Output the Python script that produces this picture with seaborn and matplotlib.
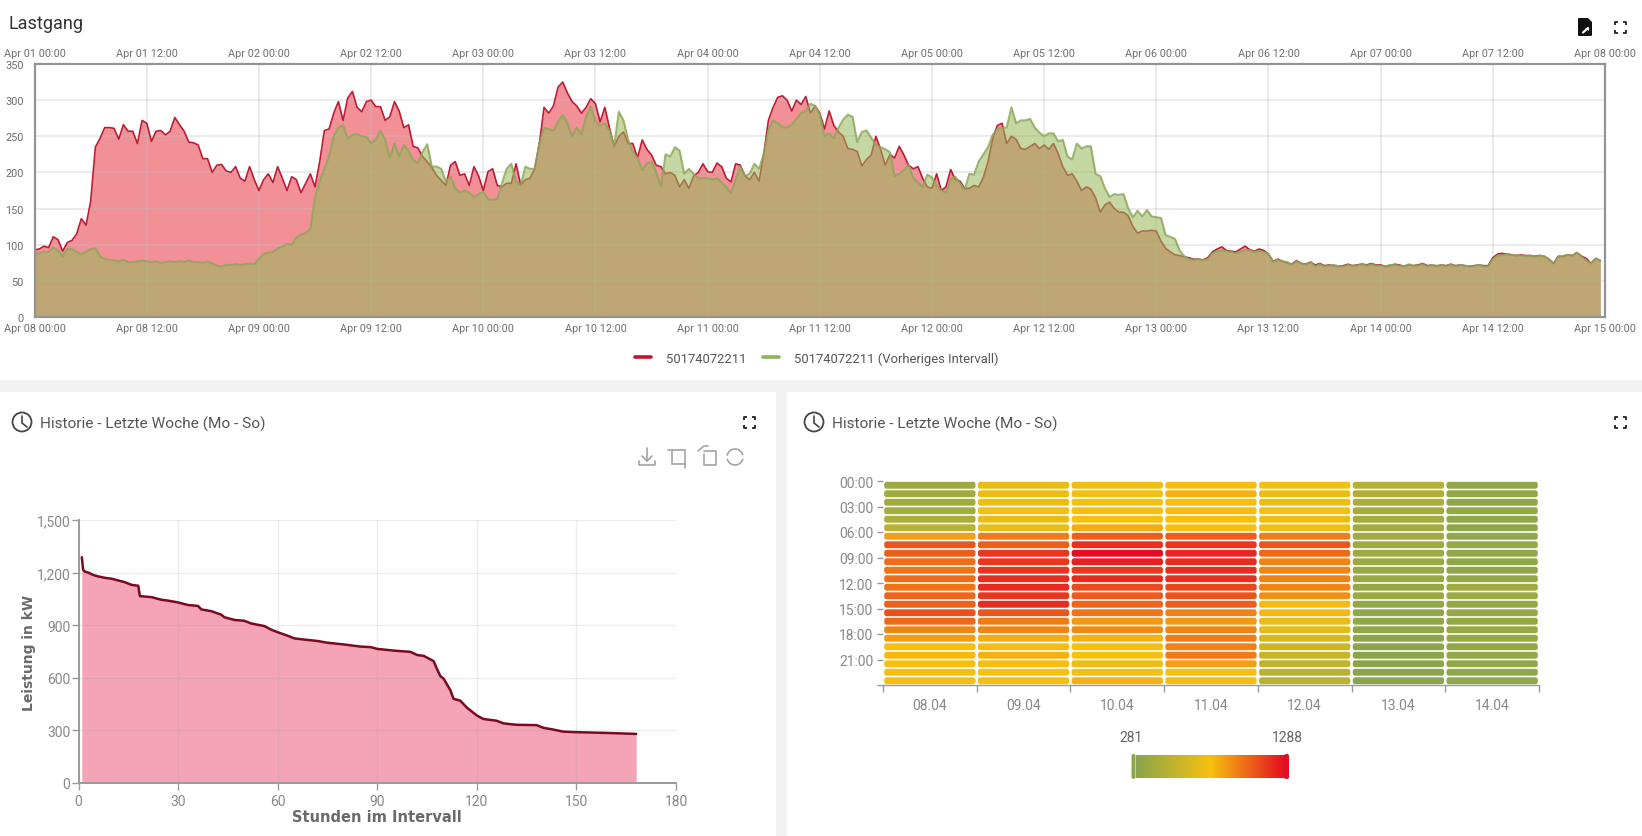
import numpy as np
import pandas as pd
import matplotlib
matplotlib.use("Agg")
import matplotlib.pyplot as plt
import matplotlib.dates as mdates
from matplotlib.colors import LinearSegmentedColormap, Normalize
from matplotlib.patches import FancyBboxPatch, Circle, Rectangle
import seaborn as sns

# ---------- data ----------
TITLE = "Lastgang"
PANEL_TITLE = "Historie - Letzte Woche (Mo - So)"
SERIES_A = "50174072211"
SERIES_B = "50174072211 (Vorheriges Intervall)"

red_apr08 = [93,94,98,96,111,107,91,103,106,115,136,127,160,235,247,262,262,261,246,266,257,257,240,272,
             268,243,257,258,252,257,276,266,257,242,241,238,219,219,200,210,211,202,200,208,192,188,208,190]
red_apr09 = [175,190,198,186,208,192,175,194,190,172,185,198,180,215,258,260,282,298,272,303,312,290,284,298,
             300,291,291,272,277,298,285,262,266,236,234,222,215,207,196,189,182,210,215,196,198,182,208,195]
red_apr10 = [175,201,205,182,180,185,185,212,183,190,192,205,240,290,282,292,318,325,310,298,292,282,290,302,
             295,270,290,262,236,250,256,240,240,220,245,232,224,210,208,198,200,196,180,190,178,195,200,212]
red_apr11 = [201,200,213,208,192,187,212,210,195,190,200,188,225,272,290,304,306,300,285,300,294,305,282,292,
             282,260,285,265,256,250,233,232,229,209,218,224,250,232,210,225,220,236,224,210,205,208,192,180]
red_apr12 = [178,198,175,180,204,190,188,178,178,182,180,193,215,247,265,268,240,250,246,233,232,236,240,233,
             238,232,240,226,208,196,198,188,175,180,177,165,145,155,159,150,145,145,140,125,116,119,119,120]
red_apr13 = [119,105,95,90,86,85,83,82,80,80,79,82,90,94,97,92,91,90,94,98,93,91,94,92,
             87,77,80,77,75,73,78,74,73,76,72,74,71,72,71,70,71,73,71,72,73,72,74,72]
red_apr14 = [72,70,71,73,72,70,72,71,72,74,71,72,70,72,71,73,71,72,71,70,71,72,71,71,
             82,87,88,87,86,85,86,85,85,84,85,84,80,74,84,84,86,85,89,84,81,74,81,78]

green_apr08 = [88,88,90,90,96,92,84,94,94,90,87,90,94,95,84,80,79,78,77,79,76,76,77,78,
               77,76,77,75,76,77,76,77,76,78,76,76,75,77,74,71,70,72,72,73,72,73,74,73]
green_apr09 = [80,87,89,90,95,97,101,100,110,114,116,122,165,188,205,222,250,262,265,247,252,253,250,249,
               240,245,258,245,220,240,222,238,230,217,213,228,239,208,208,205,187,194,178,172,175,172,166,170]
green_apr10 = [173,163,162,163,185,205,212,187,182,208,205,205,240,262,260,258,270,280,268,250,262,252,277,291,
               270,265,268,258,236,284,272,245,228,220,203,212,215,200,180,225,222,235,230,198,205,198,192,192]
green_apr11 = [192,190,192,186,180,171,190,208,195,198,212,205,225,258,272,268,263,262,266,274,282,285,295,292,
               280,250,254,247,262,273,280,277,242,256,258,248,238,235,232,228,195,198,203,210,192,186,180,197]
green_apr12 = [193,181,175,172,190,194,185,176,198,197,215,225,235,252,260,262,262,290,268,272,272,274,262,255,
               250,254,254,243,245,222,218,240,233,236,236,198,195,178,166,170,169,170,150,138,147,139,148,139]
green_apr13 = [138,137,113,111,108,92,84,80,79,80,79,80,88,91,92,91,90,88,90,93,92,90,91,90,
               87,76,79,77,76,72,77,74,72,76,70,73,70,71,72,70,70,72,71,71,74,71,73,71]
green_apr14 = [71,70,72,72,71,70,73,71,71,73,70,72,71,72,70,73,70,72,71,70,70,72,70,70,
               80,85,85,87,86,85,85,84,85,83,85,84,80,74,83,84,86,85,89,83,78,74,81,78]

duration_hours = [1,1.4,2,3,4,5,6,8,10,12,14,16,18,18.5,19,22,25,27,30,33,36,37,40,43,44,47,50,52,56,58,60,63,65,68,72,75,
                  80,85,88,90,95,100,102,104,106,107,108,109,110,112,113,115,117,119,120,122,126,128,132,138,140,143,146,150,160,168]
duration_kw = [1288,1215,1205,1200,1190,1183,1178,1170,1165,1155,1145,1130,1125,1065,1065,1060,1045,1040,1030,1015,1010,990,980,960,945,930,925,
               910,895,875,860,840,825,818,810,800,790,778,775,765,755,748,730,725,705,695,650,610,595,530,480,470,430,400,385,365,355,340,332,330,
               315,305,293,290,285,280]

heat_days = ["08.04","09.04","10.04","11.04","12.04","13.04","14.04"]
heat_hours = [f"{h:02d}:00" for h in range(24)]
heat_0804 = [370,380,385,400,420,500,880,1080,1060,1020,1000,1020,1000,1040,1050,1100,1030,950,890,790,810,790,770,790]
heat_0904 = [720,740,730,760,720,720,980,1060,1170,1170,1180,1200,1210,1170,1200,1080,980,950,840,800,830,800,780,790]
heat_1004 = [750,760,760,770,780,840,1060,1190,1288,1240,1170,1210,1120,1070,1040,1000,900,940,830,790,780,740,760,830]
heat_1104 = [800,830,790,800,790,790,1060,1170,1220,1200,1200,1200,1130,1090,1060,960,900,960,980,960,980,880,790,800]
heat_1204 = [760,740,730,760,740,750,970,1090,1030,950,950,960,950,920,800,810,720,700,630,590,570,540,500,510]
heat_1304 = [490,450,430,410,390,390,390,380,370,360,350,350,340,360,320,320,310,310,300,290,290,290,290,290]
heat_1404 = [320,320,310,320,310,310,320,330,320,310,310,330,380,370,330,330,340,330,330,320,320,320,320,320]
heat_min, heat_max = 281, 1288

# ---------- figure ----------
W, H = 1642, 837
sns.set_theme(style="white")
plt.rcParams["font.family"] = ["Roboto", "DejaVu Sans"]
fig = plt.figure(figsize=(W/100, H/100), dpi=100, facecolor="white")

def box(l, t, r, b, **kw):
    return fig.add_axes([l/W, 1-b/H, (r-l)/W, (b-t)/H], **kw)

# chrome layer
bg = fig.add_axes([0, 0, 1, 1], zorder=0)
bg.set_xlim(0, W); bg.set_ylim(H, 0); bg.axis("off")
bg.add_patch(Rectangle((0, 381), W, 12, color="#f1f1f1", lw=0))
bg.add_patch(Rectangle((776, 381), 11, H-381, color="#f1f1f1", lw=0))

GRAY = "#6e6e6e"
# ---------- top chart ----------
times = pd.date_range("2024-04-08", periods=336, freq="30min")
red = red_apr08+red_apr09+red_apr10+red_apr11+red_apr12+red_apr13+red_apr14
green = green_apr08+green_apr09+green_apr10+green_apr11+green_apr12+green_apr13+green_apr14
df = pd.DataFrame({"t": times, "red": red, "green": green})

ax = box(34.6, 65, 1605, 318)
ax.set_zorder(2)
ax.fill_between(df["t"], df["red"], color="#e4232f", alpha=0.5, lw=0)
sns.lineplot(data=df, x="t", y="red", ax=ax, color="#be1c36", lw=1.2, label=SERIES_A)
ax.fill_between(df["t"], df["green"], color="#96b95a", alpha=0.55, lw=0, zorder=2.4)
sns.lineplot(data=df, x="t", y="green", ax=ax, color="#8fa75a", lw=1.5, alpha=0.85, label=SERIES_B, zorder=2.5)
ax.set_xlim(pd.Timestamp("2024-04-08"), pd.Timestamp("2024-04-15"))
ax.set_ylim(0, 350)
ax.set_xlabel(""); ax.set_ylabel("")
ticks12 = pd.date_range("2024-04-08", "2024-04-15", freq="12h")
ax.set_xticks(ticks12)
ax.xaxis.set_major_formatter(mdates.DateFormatter("%b %d %H:%M"))
ax.set_yticks(range(0, 351, 50))
ax.tick_params(axis="both", length=0, labelsize=7.8, labelcolor=GRAY, pad=4)
ax.tick_params(axis="y", pad=8)
ax.grid(True, color="#c0c0c0", alpha=0.32, lw=1.4)
ax.set_axisbelow("line")
for s in ax.spines.values():
    s.set_color("#939393"); s.set_linewidth(1.6)
top = ax.twiny()
top.set_zorder(2)
top.set_xlim(pd.Timestamp("2024-04-01"), pd.Timestamp("2024-04-08"))
top.set_xticks(pd.date_range("2024-04-01", "2024-04-08", freq="12h"))
top.xaxis.set_major_formatter(mdates.DateFormatter("%b %d %H:%M"))
top.tick_params(axis="x", length=0, labelsize=7.8, labelcolor=GRAY, pad=4)
for s in top.spines.values():
    s.set_visible(False)
leg = ax.legend(loc="center", bbox_to_anchor=(817/W, 1-359/H), bbox_transform=fig.transFigure, ncol=2, frameon=False,
                fontsize=9.4, labelcolor="#555555", handlelength=1.25, columnspacing=1.25, handletextpad=1.15)
for ln, c in zip(leg.get_lines(), ["#c8102e", "#8fb35a"]):
    ln.set_color(c); ln.set_linewidth(2.6); ln.set_alpha(1)

# ---------- duration curve ----------
ax2 = box(78.5, 521, 676, 784)
ax2.set_zorder(2)
dfd = pd.DataFrame({"h": duration_hours, "kw": duration_kw})
ax2.fill_between(dfd["h"], dfd["kw"], color="#ec4f74", alpha=0.52, lw=0)
sns.lineplot(data=dfd, x="h", y="kw", ax=ax2, color="#7a0a20", lw=1.8)
ax2.set_xlim(0, 180); ax2.set_ylim(0, 1500)
ax2.set_xticks(range(0, 181, 30)); ax2.set_yticks(range(0, 1501, 300))
ax2.yaxis.set_major_formatter(matplotlib.ticker.FuncFormatter(lambda v, _: f"{int(v):,}"))
ax2.grid(True, color="#a0a0a0", alpha=0.18, lw=1)
ax2.set_axisbelow("line")
for n in ["top", "right"]:
    ax2.spines[n].set_visible(False)
for n in ["left", "bottom"]:
    ax2.spines[n].set_color("#9a9a9a"); ax2.spines[n].set_linewidth(1.4)
ax2.tick_params(axis="both", length=5, width=1, color="#9a9a9a", labelsize=10, labelcolor="#888888", pad=3, bottom=True, left=True)
ax2.tick_params(axis="y", pad=1)
ax2.set_xlabel("Stunden im Intervall", fontfamily="DejaVu Sans", fontweight="bold", fontsize=10.5, color="#6a6a6a", labelpad=1)
ax2.set_ylabel("Leistung in kW", fontfamily="DejaVu Sans", fontweight="bold", fontsize=10, color="#6a6a6a", labelpad=0)

# ---------- heatmap ----------
heat = pd.DataFrame(dict(zip(heat_days, [heat_0804, heat_0904, heat_1004, heat_1104, heat_1204, heat_1304, heat_1404])), index=heat_hours)
cmap = LinearSegmentedColormap.from_list("gyr", ["#8aa54c", "#f6c10f", "#e40e22"])
norm = Normalize(heat_min, heat_max)
l3, t3, r3, b3 = 883, 482, 1539, 686
ax3 = box(l3, t3, r3, b3)
ax3.set_zorder(2)
sns.heatmap(heat, ax=ax3, cmap=cmap, vmin=heat_min, vmax=heat_max, cbar=False)
mesh = ax3.collections[0]
mesh.set_visible(False)
px_x, px_y = 7/(r3-l3), 24/(b3-t3)
for i in range(24):
    for j in range(7):
        c = cmap(norm(heat.iloc[i, j]))
        gx, gy = 1.2*px_x, 0.8*px_y
        ax3.add_patch(FancyBboxPatch((j+gx, i+gy), 1-2*gx, 1-2*gy,
                      boxstyle=f"round,pad=0,rounding_size={2.5*px_x}", mutation_aspect=px_y/px_x,
                      fc=c, ec="none"))
ax3.set_xlabel(""); ax3.set_ylabel("")
ax3.set_xticks(np.arange(7)+0.5); ax3.set_xticklabels(heat_days, rotation=0)
ax3.set_xticks(np.arange(8), minor=True)
ax3.set_yticks(np.arange(0, 25, 3))
ax3.set_yticklabels([heat_hours[i] for i in range(0, 24, 3)]+[""], rotation=0, va="center")
ax3.tick_params(axis="x", which="major", length=0, labelsize=10, labelcolor="#888888", pad=9, bottom=True)
ax3.tick_params(axis="x", which="minor", length=5, width=1, color="#999999", bottom=True)
ax3.tick_params(axis="y", length=4, width=1, color="#999999", labelsize=10, labelcolor="#888888", pad=3, left=True)
ax3.spines["bottom"].set_visible(True); ax3.spines["bottom"].set_color("#999999"); ax3.spines["bottom"].set_linewidth(1)
ax3.spines["left"].set_visible(False)
for lab in ax3.get_yticklabels():
    lab.set_transform(lab.get_transform()+matplotlib.transforms.ScaledTranslation(0, -1.5/100, fig.dpi_scale_trans))

# colour bar
cb = box(1136, 756, 1285, 779)
cb.set_zorder(2)
grad = np.linspace(0, 1, 256)[None, :]
cb.imshow(grad, aspect="auto", cmap=cmap, extent=(0, 1, 0, 1))
cb.axis("off")

# ---------- chrome layer on top ----------
ov = fig.add_axes([0, 0, 1, 1], zorder=5)
ov.set_xlim(0, W); ov.set_ylim(H, 0); ov.axis("off"); ov.patch.set_alpha(0)

def t(x, y, s, **kw):
    ov.text(x, y, s, va="center", **kw)

t(9, 23.5, TITLE, fontsize=13, color="#333333")
t(40, 424, PANEL_TITLE, fontsize=11.05, color="#555555")
t(832, 424, PANEL_TITLE, fontsize=11.05, color="#555555")
t(1131, 738, str(heat_min), fontsize=10, color="#666666", ha="center")
t(1287, 738, str(heat_max), fontsize=10, color="#666666", ha="center")

# colour bar handles
ov.add_patch(FancyBboxPatch((1131.5, 755), 4, 25, boxstyle="round,pad=0,rounding_size=2", fc="#8aa54c", ec="none"))
ov.add_patch(FancyBboxPatch((1284, 755), 5, 25, boxstyle="round,pad=0,rounding_size=2", fc="#e40e22", ec="none"))

def clock(cx, cy):
    ov.add_patch(Circle((cx, cy), 9.5, fc="none", ec="#444444", lw=1.3))
    ov.plot([cx, cx, cx+5], [cy-6, cy+1, cy+5], color="#444444", lw=1.2)

def fullscreen(cx, cy, r=5.5, a=3, c="#222222"):
    for sx in (-1, 1):
        for sy in (-1, 1):
            ov.plot([cx+sx*r, cx+sx*r, cx+sx*(r-a)], [cy+sy*(r-a), cy+sy*r, cy+sy*r], color=c, lw=1.3, solid_capstyle="butt")

clock(22, 423); clock(814, 423)
fullscreen(749, 423.5); fullscreen(1620, 423.5); fullscreen(1620, 28.5)

# file icon
ov.add_patch(FancyBboxPatch((1578, 19), 14, 18, boxstyle="round,pad=0,rounding_size=1.2", fc="#111111", ec="none"))
ov.fill([1587, 1592.5, 1592.5], [18, 18, 24], color="white", lw=0)
ov.plot([1583, 1588], [33.5, 29], color="white", lw=1.6)
ov.fill([1585, 1589, 1589], [28.5, 28.5, 32], color="white", lw=0)

# toolbox icons
ic = "#a3a3a3"
ov.plot([647, 647], [449, 462], color=ic, lw=1.2)
ov.plot([642, 647, 652], [457, 462, 457], color=ic, lw=1.2)
ov.plot([639, 639, 655, 655], [462, 466, 466, 462], color=ic, lw=1.2)
ov.add_patch(Rectangle((672, 451), 13, 14, fc="none", ec=ic, lw=1.2))
ov.plot([668, 672], [451, 451], color=ic, lw=1.2)
ov.plot([685, 685], [465, 469], color=ic, lw=1.2)
ov.plot([704, 704, 716, 716, 704], [455, 466, 466, 452, 452], color=ic, lw=1.2)
ov.plot([698, 704, 708], [452, 447, 447], color=ic, lw=1.2)
for a, b in [(0.3, 2.9), (3.45, 6.0)]:
    th = np.linspace(a, b, 30)
    ov.plot(735+8*np.cos(th), 458-8*np.sin(th), color=ic, lw=1.2)

fig.savefig("out.png", dpi=100)
